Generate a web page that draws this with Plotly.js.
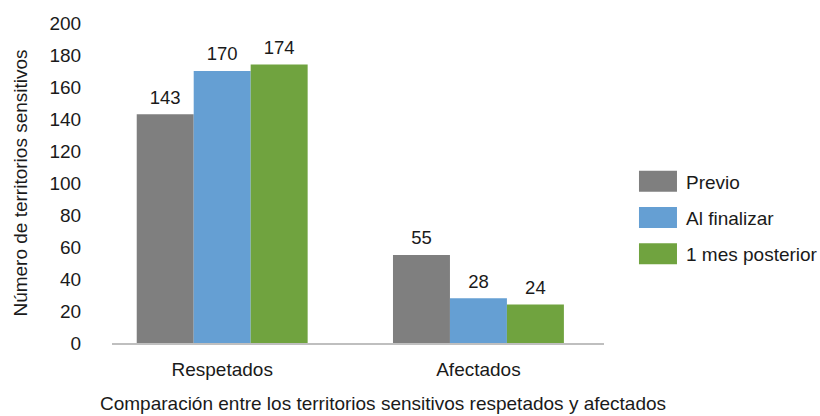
<!DOCTYPE html>
<html>
<head>
<meta charset="utf-8">
<script src="https://cdn.plot.ly/plotly-3.0.1.min.js"></script>
<style>
  html, body { margin: 0; padding: 0; background: #fff; }
  #chart { width: 820px; height: 416px; }
</style>
</head>
<body>
<div id="chart"></div>
<script>
// Sensitive territories: respected vs affected, at three moments
const categories = ['Respetados', 'Afectados'];
const seriesNames = ['Previo', 'Al finalizar', '1 mes posterior'];
const previo = [143, 55];
const alFinalizar = [170, 28];
const unMesPosterior = [174, 24];
const seriesColors = ['#7f7f7f', '#659fd3', '#70a33f'];
const yTicks = [0, 20, 40, 60, 80, 100, 120, 140, 160, 180, 200];
const xTitle = 'Comparación entre los territorios sensitivos respetados y afectados';
const yTitle = 'Número de territorios sensitivos';

const seriesValues = [previo, alFinalizar, unMesPosterior];
const FONT = 'Liberation Sans, Arial, sans-serif';
const TXT = '#1a1a1a';

const bars = seriesValues.map((vals, i) => ({
  type: 'bar',
  name: seriesNames[i],
  x: categories,
  y: vals,
  legendgroup: 'g' + i,
  marker: { color: seriesColors[i], line: { width: 0 } },
  hoverinfo: 'skip'
}));

// value labels, grouped the same way as the bars and lifted by an invisible marker
const labels = seriesValues.map((vals, i) => ({
  type: 'scatter',
  mode: 'markers+text',
  x: categories,
  y: vals,
  text: vals.map(String),
  textposition: 'top center',
  textfont: { family: FONT, size: 18.5, color: TXT },
  marker: { size: 8, opacity: 0 },
  cliponaxis: false,
  showlegend: false,
  hoverinfo: 'skip'
}));

const layout = {
  width: 820,
  height: 416,
  margin: { l: 112, r: 216, t: 23, b: 73, pad: 0 },
  paper_bgcolor: '#ffffff',
  plot_bgcolor: '#ffffff',
  font: { family: FONT, size: 19, color: TXT },
  barmode: 'group',
  bargap: 0.333,
  bargroupgap: 0,
  scattermode: 'group',
  scattergap: 0.333,
  showlegend: true,
  legend: {
    xref: 'container', yref: 'container',
    x: 0.7512, y: 0.476, xanchor: 'left', yanchor: 'middle',
    font: { family: FONT, size: 19, color: TXT },
    itemwidth: 60,
    tracegroupgap: 8.5,
    bgcolor: 'rgba(0,0,0,0)'
  },
  xaxis: {
    type: 'category',
    range: [-0.43, 1.49],
    showline: true,
    linecolor: '#bfbfbf',
    linewidth: 1.5,
    showgrid: false,
    zeroline: false,
    ticks: 'outside',
    ticklen: 9,
    tickcolor: 'rgba(0,0,0,0)',
    tickfont: { family: FONT, size: 19, color: TXT },
    automargin: false,
    fixedrange: true
  },
  yaxis: {
    range: [0, 200],
    tickvals: yTicks,
    ticktext: yTicks.map(String),
    showline: false,
    showgrid: false,
    zeroline: false,
    ticks: 'outside',
    ticklen: 26,
    tickcolor: 'rgba(0,0,0,0)',
    tickfont: { family: FONT, size: 19, color: TXT },
    title: {
      text: yTitle,
      font: { family: FONT, size: 19, color: TXT },
      standoff: 16
    },
    automargin: false,
    fixedrange: true
  },
  annotations: [{
    // horizontal axis caption, centred under the whole chart
    text: xTitle,
    xref: 'paper', yref: 'paper',
    x: 0.55, y: -0.19,
    xanchor: 'center', yanchor: 'middle',
    showarrow: false,
    font: { family: FONT, size: 19, color: TXT }
  }]
};

// legend swatches as 38x21 rectangles ending 9px before their label
// (symbol origin sits at itemGap + itemwidth/2 = 35, label starts at 70)
function reshapeLegendSwatches() {
  document.querySelectorAll('#chart .legend .legendpoints path').forEach(path => {
    path.setAttribute('d', 'M26,10.5H-12V-10.5H26Z');
  });
}

Plotly.newPlot('chart', bars.concat(labels), layout, { staticPlot: true, displayModeBar: false })
  .then(reshapeLegendSwatches);
</script>
</body>
</html>
